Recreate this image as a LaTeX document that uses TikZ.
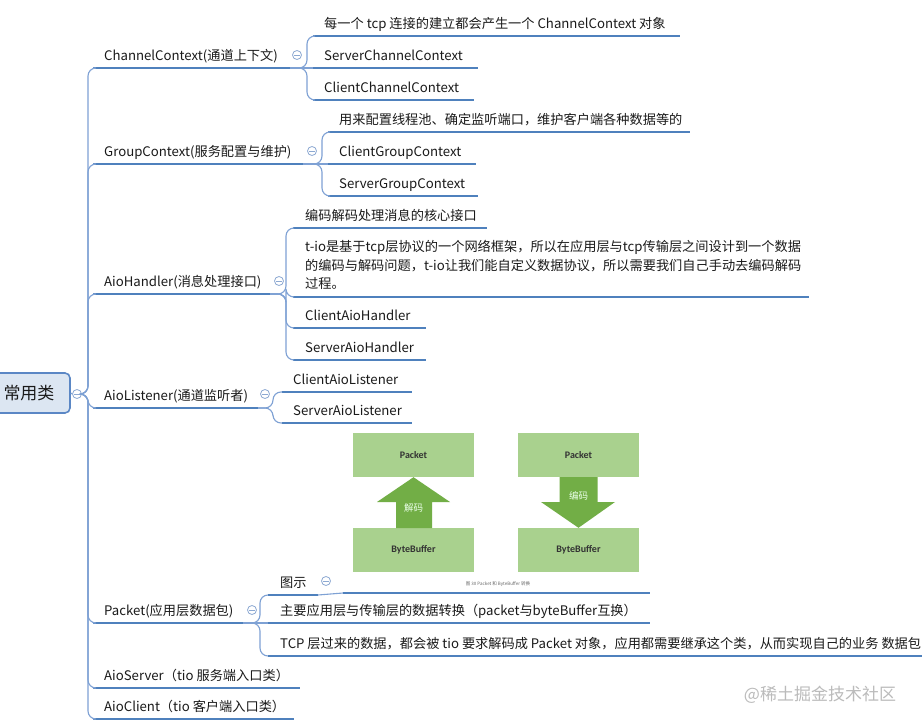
\documentclass[tikz,border=0pt]{standalone}
\usepackage{fontspec}
\setmainfont{Noto Sans CJK SC}
\newfontfamily\boxfont{Carlito}
\definecolor{lineblue}{HTML}{4F81BD}
\definecolor{connblue}{HTML}{7EA1D4}
\definecolor{foldc}{HTML}{8DA9D2}
\definecolor{rootfill}{HTML}{DCE6F2}
\definecolor{rootdraw}{HTML}{5B87C5}
\definecolor{gfill}{HTML}{A9D18E}
\definecolor{garrow}{HTML}{72AE46}
\definecolor{txt}{HTML}{1A1A1A}
\definecolor{wmc}{HTML}{BBBBBB}
\newcommand{\mmleaf}[6]{%
  \node[lbl] (#1) at (#2,#3-8) {#6};
  \coordinate (#1a) at (#4,#3);
  \coordinate (#1b) at (#5,#3);
  \draw[uline] (#1a) -- (#1b);}
\begin{document}
\begin{tikzpicture}[x=1pt,y=-1pt,
  lbl/.style={anchor=base west, inner sep=0pt, text=txt, font=\fontsize{13.2}{13.2}\selectfont},
  uline/.style={draw=lineblue, line width=2.9pt},
  conn/.style={draw=connblue, line width=1.1pt, rounded corners=8pt},
  fold/.style={circle, draw=foldc, line width=0.8pt, fill=white, minimum size=9pt, inner sep=0pt,
    path picture={\draw[foldc, line width=0.8pt] ([xshift=-2.6pt]path picture bounding box.center) -- ([xshift=2.6pt]path picture bounding box.center);}},
  rootbox/.style={draw=rootdraw, fill=rootfill, line width=1.6pt, rounded corners=5pt, minimum width=82pt, minimum height=40pt, inner sep=0pt, text=txt, font=\fontsize{17}{17}\selectfont},
  gbox/.style={fill=gfill, minimum width=121pt, minimum height=44pt, inner sep=0pt, font=\boxfont\bfseries\fontsize{10}{10}\selectfont, text=black!80},
  gtxt/.style={inner sep=0pt, font=\fontsize{9.5}{9.5}\selectfont, text=green!8!white},
]
\useasboundingbox (0,0) rectangle (922,728);
\fill[white] (0,0) rectangle (922,728);

% root
\node[rootbox] (root) at (29,393) {常用类};
\node[fold] (rf) at (77,394) {};
\draw[conn] (root.east) -- (rf.west);

% topic 1
\mmleaf{t1}{104}{68}{93}{290}{ChannelContext(通道上下文)}
\node[fold] (f1) at (297,55) {};
\mmleaf{c11}{324}{36}{313}{680}{每一个 tcp 连接的建立都会产生一个 ChannelContext 对象}
\mmleaf{c12}{324}{68}{313}{478}{ServerChannelContext}
\mmleaf{c13}{324}{100}{313}{474}{ClientChannelContext}
\draw[conn] (t1b) -- (307,68) |- (c11a);
\draw[conn] (t1b) -- (c12a);
\draw[conn] (t1b) -- (307,68) |- (c13a);

% topic 2
\mmleaf{t2}{104}{164}{93}{303}{GroupContext(服务配置与维护)}
\node[fold] (f2) at (312,151) {};
\mmleaf{c21}{339}{132}{328}{690}{用来配置线程池、确定监听端口，维护客户端各种数据等的}
\mmleaf{c22}{339}{164}{328}{476}{ClientGroupContext}
\mmleaf{c23}{339}{196}{328}{478}{ServerGroupContext}
\draw[conn] (t2b) -- (322,164) |- (c21a);
\draw[conn] (t2b) -- (c22a);
\draw[conn] (t2b) -- (322,164) |- (c23a);

% topic 3
\mmleaf{t3}{104}{294}{93}{270}{AioHandler(消息处理接口)}
\node[fold] (f3) at (279,281) {};
\mmleaf{c31}{305}{228}{293}{487}{编码解码处理消息的核心接口}
\node[lbl, anchor=north west, align=left, font=\fontsize{13.2}{18.5}\selectfont] (c32) at (305,240.5)
  {t-io是基于tcp层协议的一个网络框架，所以在应用层与tcp传输层之间设计到一个数据\\的编码与解码问题，t-io让我们能自定义数据协议，所以需要我们自己手动去编码解码\\过程。};
\coordinate (c32a) at (293,297); \coordinate (c32b) at (809,297);
\draw[uline] (c32a) -- (c32b);
\mmleaf{c33}{305}{328}{293}{426}{ClientAioHandler}
\mmleaf{c34}{305}{360}{293}{426}{ServerAioHandler}
\draw[conn] (t3b) -- (286,294) |- (c31a);
\draw[conn] (t3b) -- (286,294) |- (c32a);
\draw[conn] (t3b) -- (286,294) |- (c33a);
\draw[conn] (t3b) -- (286,294) |- (c34a);

% topic 4
\mmleaf{t4}{104}{408}{93}{258}{AioListener(通道监听者)}
\node[fold] (f4) at (265,394) {};
\mmleaf{c41}{293}{392}{282}{412}{ClientAioListener}
\mmleaf{c42}{293}{423}{282}{412}{ServerAioListener}
\draw[conn] (t4b) -- (273,408) |- (c41a);
\draw[conn] (t4b) -- (273,408) |- (c42a);

% topic 5
\mmleaf{t5}{104}{623}{93}{243}{Packet(应用层数据包)}
\node[fold] (f5) at (252,610) {};
\mmleaf{c51}{280}{595}{268}{318}{图示}
\node[fold] (f51) at (326,581) {};
\mmleaf{c52}{280}{623}{268}{650}{主要应用层与传输层的数据转换（packet与byteBuffer互换）}
\mmleaf{c53}{280}{656}{268}{922}{TCP 层过来的数据，都会被 tio 要求解码成 Packet 对象，应用都需要继承这个类，从而实现自己的业务 数据包}
\draw[conn] (t5b) -- (260,623) |- (c51a);
\draw[conn] (t5b) -- (c52a);
\draw[conn] (t5b) -- (260,623) |- (c53a);

% picture child of 图示
\coordinate (imga) at (343,593); \coordinate (imgb) at (650,593);
\draw[conn] (c51b) -- (imga);
\draw[uline] (imga) -- (imgb);
\node[gbox] (p1) at (413.5,455) {Packet};
\node[gbox] (b1) at (413.5,550) {ByteBuffer};
\node[gbox] (p2) at (578.5,455) {Packet};
\node[gbox] (b2) at (578.5,550) {ByteBuffer};
\fill[garrow] (p1.south) -- (450,502) -- (432,502) -- (432,528) -- (396,528) -- (396,502) -- (377,502) -- cycle;
\fill[garrow] (b2.north) -- (615,502) -- (597.5,502) -- (597.5,477) -- (559.5,477) -- (559.5,502) -- (541,502) -- cycle;
\node[gtxt] (dec) at (413.5,508) {解码};
\node[gtxt] (enc) at (578.5,496) {编码};
\node[inner sep=0pt, font=\fontsize{4.5}{4.5}\selectfont, text=black!60] (cap) at (498,584) {图 30 Packet 和 ByteBuffer 转换};

% topic 6, 7
\mmleaf{t6}{104}{688}{93}{300}{AioServer（tio 服务端入口类）}
\mmleaf{t7}{104}{719}{93}{294}{AioClient（tio 客户端入口类）}

% spine connectors from root
\foreach \t in {t1,t2,t3,t4,t5,t6,t7}{
  \draw[conn] (rf.east) -- (88,394) |- (\t a);
}

% watermark
\node[inner sep=0pt, text=wmc, font=\fontsize{17}{17}\selectfont] (wm) at (820,695) {@稀土掘金技术社区};
\end{tikzpicture}
\end{document}
